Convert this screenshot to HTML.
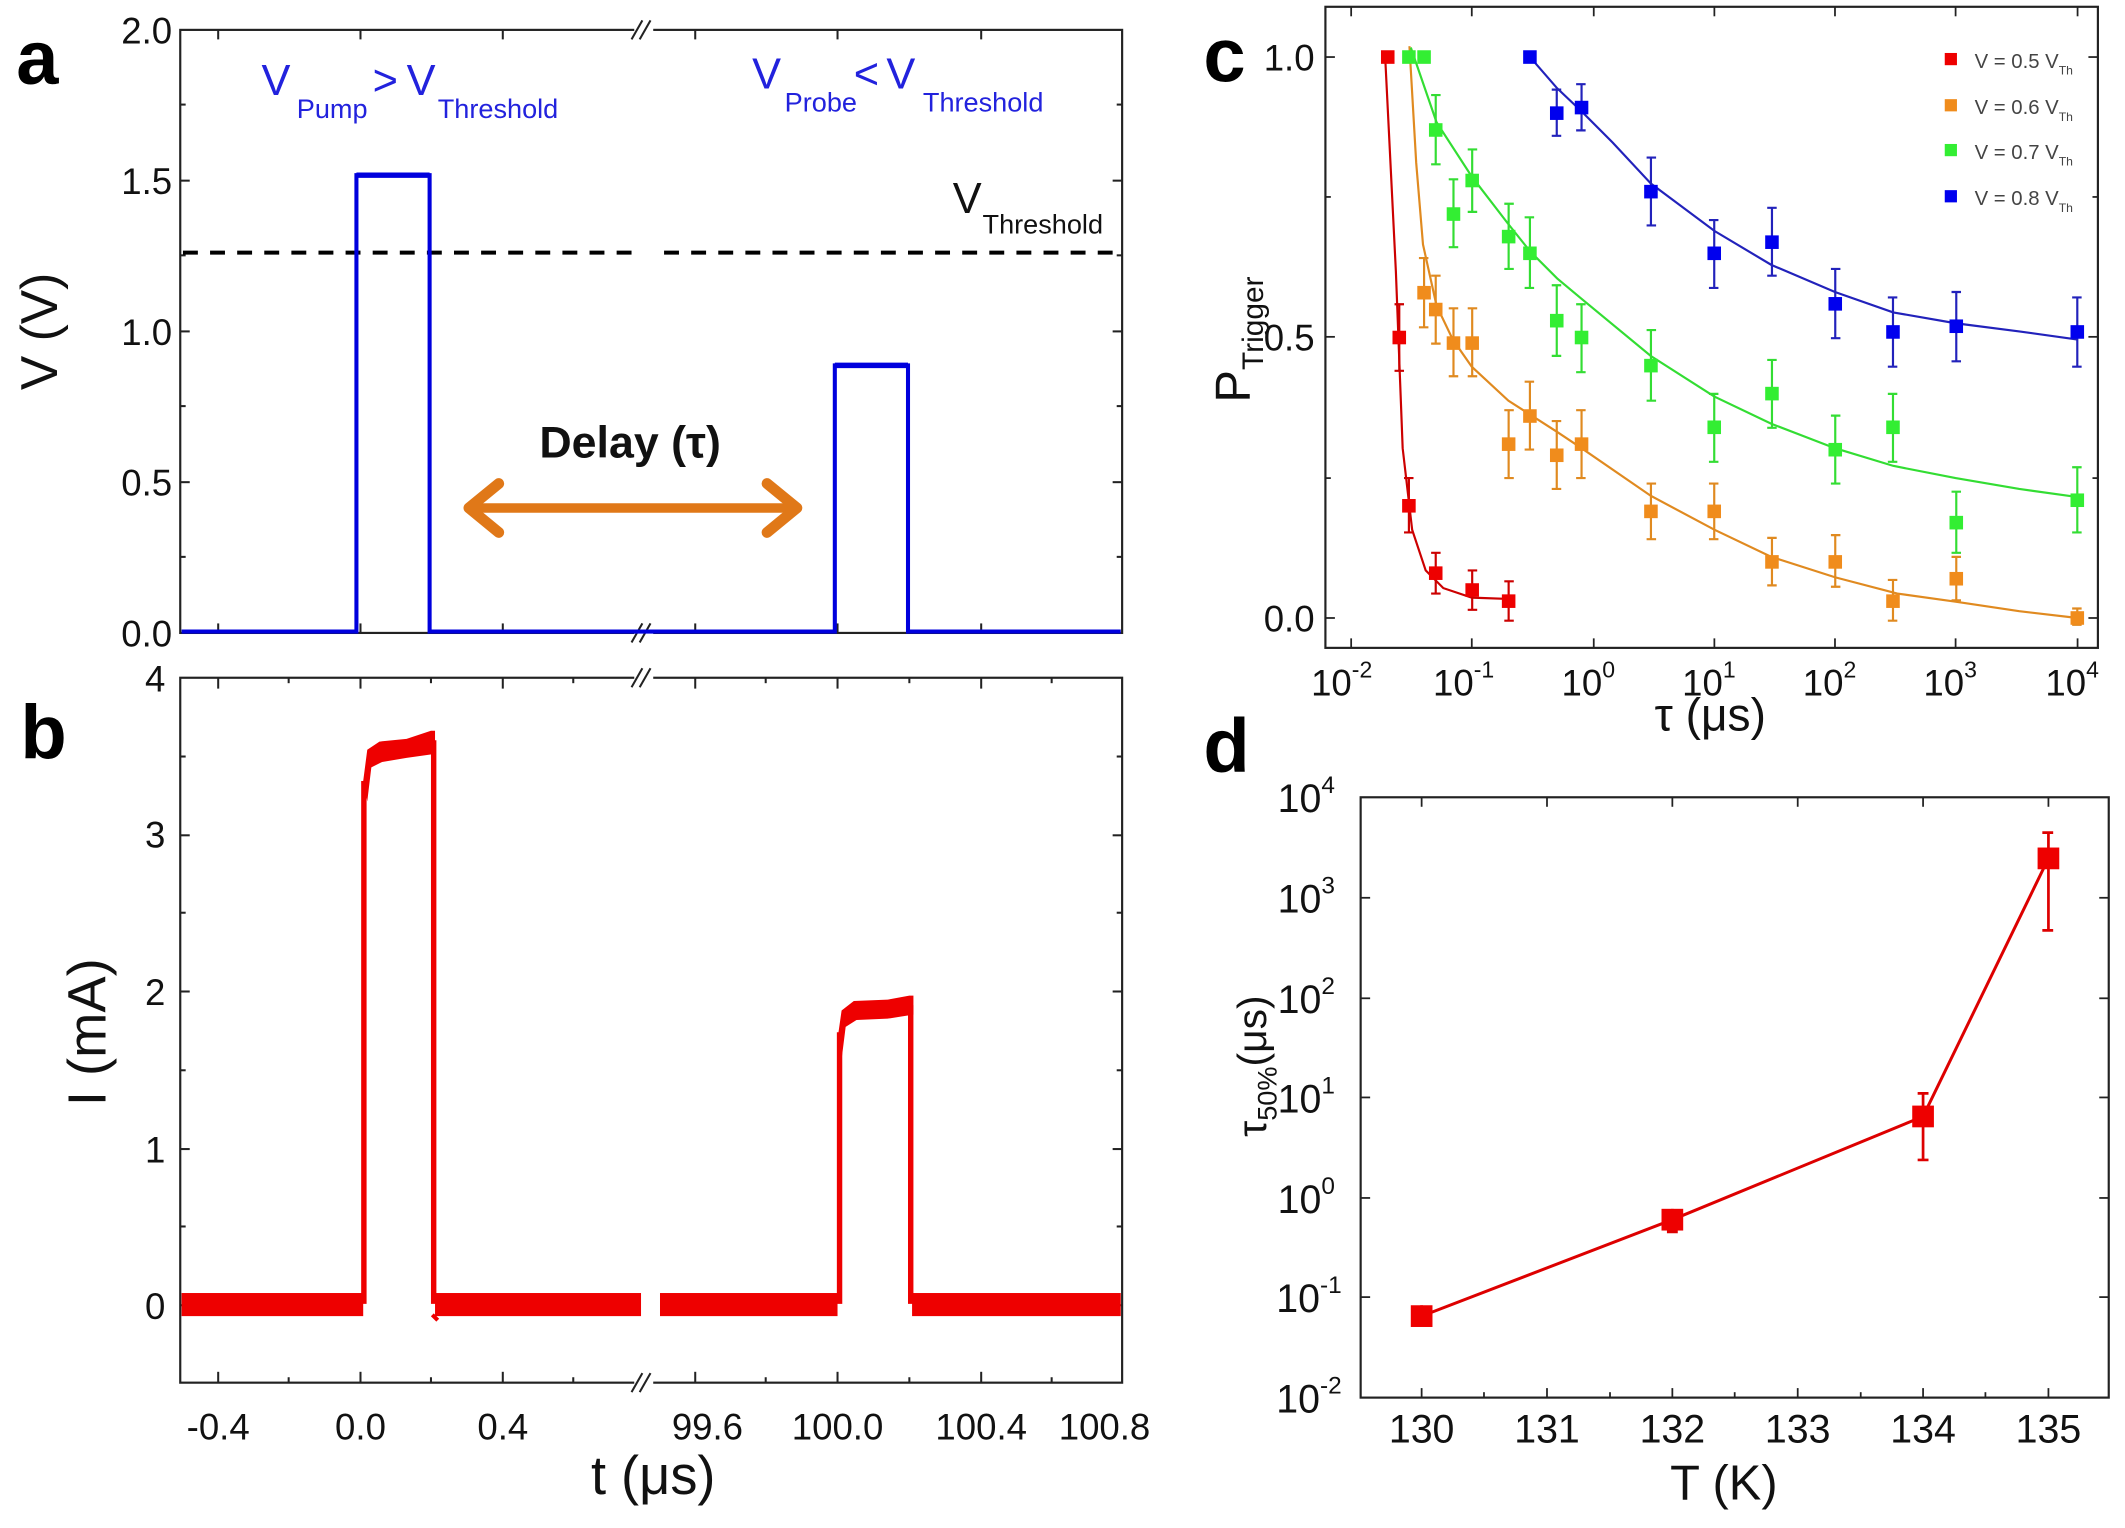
<!DOCTYPE html>
<html><head><meta charset="utf-8"><style>
html,body{margin:0;padding:0;background:#fff;}
svg{display:block;}
text{font-family:"Liberation Sans",Arial,sans-serif;}
</style></head><body>
<svg width="2125" height="1528" viewBox="0 0 1568 1125" preserveAspectRatio="none" xmlns="http://www.w3.org/2000/svg">
<rect width="1568" height="1125" fill="#fff"/>

<!-- ================= Panel a ================= -->
<text x="12" y="62" font-size="56" font-weight="bold">a</text>
<rect x="133" y="22" width="695" height="444" fill="none" stroke="#222" stroke-width="1.6"/>
<g stroke="#222" stroke-width="1.5">
<line x1="133" y1="133" x2="140" y2="133"/><line x1="133" y1="244" x2="140" y2="244"/><line x1="133" y1="355" x2="140" y2="355"/>
<line x1="133" y1="77" x2="137" y2="77"/><line x1="133" y1="188" x2="137" y2="188"/><line x1="133" y1="299" x2="137" y2="299"/><line x1="133" y1="410" x2="137" y2="410"/>
<line x1="828" y1="133" x2="821" y2="133"/><line x1="828" y1="244" x2="821" y2="244"/><line x1="828" y1="355" x2="821" y2="355"/>
<line x1="828" y1="77" x2="824" y2="77"/><line x1="828" y1="188" x2="824" y2="188"/><line x1="828" y1="299" x2="824" y2="299"/><line x1="828" y1="410" x2="824" y2="410"/>
<line x1="161" y1="22" x2="161" y2="29"/><line x1="266" y1="22" x2="266" y2="29"/><line x1="371" y1="22" x2="371" y2="29"/>
<line x1="513" y1="22" x2="513" y2="29"/><line x1="618" y1="22" x2="618" y2="29"/><line x1="724" y1="22" x2="724" y2="29"/>
<line x1="161" y1="466" x2="161" y2="459"/><line x1="266" y1="466" x2="266" y2="459"/><line x1="371" y1="466" x2="371" y2="459"/>
<line x1="513" y1="466" x2="513" y2="459"/><line x1="618" y1="466" x2="618" y2="459"/><line x1="724" y1="466" x2="724" y2="459"/>
</g>
<g font-size="27" text-anchor="end" fill="#111">
<text x="127" y="32">2.0</text><text x="127" y="143">1.5</text><text x="127" y="254">1.0</text><text x="127" y="365">0.5</text><text x="127" y="476">0.0</text>
</g>
<text transform="translate(42,244) rotate(-90)" font-size="38" text-anchor="middle" fill="#111">V (V)</text>
<rect x="468" y="14" width="14" height="16" fill="#fff"/>
<rect x="468" y="458" width="14" height="16" fill="#fff"/>
<g stroke="#222" stroke-width="1.5">
<line x1="466" y1="29" x2="474" y2="15"/><line x1="472" y1="29" x2="480" y2="15"/>
<line x1="466" y1="473" x2="474" y2="459"/><line x1="472" y1="473" x2="480" y2="459"/>
</g>
<line x1="135" y1="186" x2="470" y2="186" stroke="#000" stroke-width="3" stroke-dasharray="11,9"/>
<line x1="490" y1="186" x2="826" y2="186" stroke="#000" stroke-width="3" stroke-dasharray="11,9"/>
<polyline points="134,465 263,465 263,129 317,129 317,465 616,465 616,269 670,269 670,465 827,465" fill="none" stroke="#0000dd" stroke-width="3"/>
<line x1="263" y1="129" x2="317" y2="129" stroke="#0000dd" stroke-width="4"/>
<line x1="616" y1="269" x2="670" y2="269" stroke="#0000dd" stroke-width="4"/>
<g fill="#2222dd">
<text x="193" y="70" font-size="32">V</text><text x="219" y="87" font-size="20">Pump</text><text x="275" y="70" font-size="32">&gt;</text><text x="300" y="70" font-size="32">V</text><text x="323" y="87" font-size="20">Threshold</text>
<text x="555" y="65" font-size="32">V</text><text x="579" y="82" font-size="20">Probe</text><text x="630" y="65" font-size="32">&lt;</text><text x="654" y="65" font-size="32">V</text><text x="681" y="82" font-size="20">Threshold</text>
</g>
<text x="703" y="157" font-size="32" fill="#111">V</text><text x="725" y="172" font-size="20" fill="#111">Threshold</text>
<text x="398" y="337" font-size="33" font-weight="bold" fill="#111">Delay (τ)</text>
<line x1="352" y1="374" x2="582" y2="374" stroke="#e07818" stroke-width="7"/>
<polyline points="368,356 346,374 368,392" fill="none" stroke="#e07818" stroke-width="8" stroke-linecap="round" stroke-linejoin="round"/>
<polyline points="566,356 588,374 566,392" fill="none" stroke="#e07818" stroke-width="8" stroke-linecap="round" stroke-linejoin="round"/>

<!-- ================= Panel b ================= -->
<text x="15" y="558" font-size="56" font-weight="bold">b</text>
<rect x="133" y="499" width="695" height="519" fill="none" stroke="#222" stroke-width="1.6"/>
<g stroke="#222" stroke-width="1.5">
<line x1="133" y1="615" x2="140" y2="615"/><line x1="133" y1="730" x2="140" y2="730"/><line x1="133" y1="846" x2="140" y2="846"/><line x1="133" y1="961" x2="140" y2="961"/>
<line x1="133" y1="557" x2="137" y2="557"/><line x1="133" y1="672" x2="137" y2="672"/><line x1="133" y1="788" x2="137" y2="788"/><line x1="133" y1="903" x2="137" y2="903"/>
<line x1="828" y1="615" x2="821" y2="615"/><line x1="828" y1="730" x2="821" y2="730"/><line x1="828" y1="846" x2="821" y2="846"/><line x1="828" y1="961" x2="821" y2="961"/>
<line x1="828" y1="557" x2="824" y2="557"/><line x1="828" y1="672" x2="824" y2="672"/><line x1="828" y1="788" x2="824" y2="788"/><line x1="828" y1="903" x2="824" y2="903"/>
<line x1="161" y1="499" x2="161" y2="507"/><line x1="266" y1="499" x2="266" y2="507"/><line x1="371" y1="499" x2="371" y2="507"/>
<line x1="513" y1="499" x2="513" y2="507"/><line x1="618" y1="499" x2="618" y2="507"/><line x1="724" y1="499" x2="724" y2="507"/>
<line x1="161" y1="1018" x2="161" y2="1010"/><line x1="266" y1="1018" x2="266" y2="1010"/><line x1="371" y1="1018" x2="371" y2="1010"/>
<line x1="513" y1="1018" x2="513" y2="1010"/><line x1="618" y1="1018" x2="618" y2="1010"/><line x1="724" y1="1018" x2="724" y2="1010"/>
<line x1="213" y1="499" x2="213" y2="503"/><line x1="318" y1="499" x2="318" y2="503"/><line x1="423" y1="499" x2="423" y2="503"/><line x1="565" y1="499" x2="565" y2="503"/><line x1="671" y1="499" x2="671" y2="503"/><line x1="776" y1="499" x2="776" y2="503"/>
<line x1="213" y1="1018" x2="213" y2="1014"/><line x1="318" y1="1018" x2="318" y2="1014"/><line x1="423" y1="1018" x2="423" y2="1014"/><line x1="565" y1="1018" x2="565" y2="1014"/><line x1="671" y1="1018" x2="671" y2="1014"/><line x1="776" y1="1018" x2="776" y2="1014"/>
</g>
<g font-size="27" text-anchor="end" fill="#111">
<text x="122" y="509">4</text><text x="122" y="624">3</text><text x="122" y="740">2</text><text x="122" y="856">1</text><text x="122" y="971">0</text>
</g>
<g font-size="27" text-anchor="middle" fill="#111">
<text x="161" y="1060">-0.4</text><text x="266" y="1060">0.0</text><text x="371" y="1060">0.4</text>
<text x="522" y="1060">99.6</text><text x="618" y="1060">100.0</text><text x="724" y="1060">100.4</text><text x="815" y="1060">100.8</text>
</g>
<text transform="translate(78,760) rotate(-90)" font-size="40" text-anchor="middle" fill="#111">I (mA)</text>
<text x="482" y="1100" font-size="40" text-anchor="middle" fill="#111">t (μs)</text>
<rect x="468" y="491" width="14" height="16" fill="#fff"/>
<rect x="468" y="1010" width="14" height="16" fill="#fff"/>
<g stroke="#222" stroke-width="1.5">
<line x1="466" y1="506" x2="474" y2="492"/><line x1="472" y1="506" x2="480" y2="492"/>
<line x1="466" y1="1025" x2="474" y2="1011"/><line x1="472" y1="1025" x2="480" y2="1011"/>
</g>
<g fill="#ee0000">
<rect x="134" y="952" width="134" height="17"/>
<rect x="321" y="952" width="152" height="17"/>
<rect x="487" y="952" width="131" height="17"/>
<rect x="673" y="952" width="154" height="17"/>
<polygon points="268,575 271,552 280,546 300,544 318,538 321,538 321,555 300,558 282,561 274,565 271,590"/>
<polygon points="618,765 621,744 630,737 655,736 671,733 674,733 674,747 655,750 632,751 624,756 621,780"/>
</g>
<g stroke="#ee0000" fill="none" stroke-width="4">
<line x1="268.5" y1="960" x2="268.5" y2="575"/>
<line x1="320" y1="960" x2="320" y2="545"/>
<line x1="319" y1="968" x2="323" y2="972" stroke-width="3"/>
<line x1="619.5" y1="960" x2="619.5" y2="760"/>
<line x1="672" y1="960" x2="672" y2="740"/>
</g>

<!-- ================= Panel c ================= -->
<text x="888" y="60" font-size="56" font-weight="bold">c</text>
<rect x="978" y="5" width="570" height="472" fill="none" stroke="#222" stroke-width="1.6"/>
<g stroke="#222" stroke-width="1.3">
<line x1="978" y1="42" x2="985" y2="42"/><line x1="978" y1="248" x2="985" y2="248"/><line x1="978" y1="455" x2="985" y2="455"/>
<line x1="978" y1="145" x2="982" y2="145"/><line x1="978" y1="352" x2="982" y2="352"/>
<line x1="1548" y1="42" x2="1541" y2="42"/><line x1="1548" y1="248" x2="1541" y2="248"/><line x1="1548" y1="455" x2="1541" y2="455"/>
<line x1="1548" y1="145" x2="1544" y2="145"/><line x1="1548" y1="352" x2="1544" y2="352"/>
<line x1="997" y1="477" x2="997" y2="470"/><line x1="1086" y1="477" x2="1086" y2="470"/><line x1="1176" y1="477" x2="1176" y2="470"/><line x1="1265" y1="477" x2="1265" y2="470"/><line x1="1354" y1="477" x2="1354" y2="470"/><line x1="1443" y1="477" x2="1443" y2="470"/><line x1="1533" y1="477" x2="1533" y2="470"/>
<line x1="997" y1="5" x2="997" y2="12"/><line x1="1086" y1="5" x2="1086" y2="12"/><line x1="1176" y1="5" x2="1176" y2="12"/><line x1="1265" y1="5" x2="1265" y2="12"/><line x1="1354" y1="5" x2="1354" y2="12"/><line x1="1443" y1="5" x2="1443" y2="12"/><line x1="1533" y1="5" x2="1533" y2="12"/>
</g>
<g font-size="27" text-anchor="end" fill="#111">
<text x="970" y="52">1.0</text><text x="970" y="258">0.5</text><text x="970" y="465">0.0</text>
</g>
<g font-size="27" fill="#111" text-anchor="middle">
<text x="990" y="512">10<tspan font-size="17" dy="-13">-2</tspan></text>
<text x="1080" y="512">10<tspan font-size="17" dy="-13">-1</tspan></text>
<text x="1172" y="512">10<tspan font-size="17" dy="-13">0</tspan></text>
<text x="1261" y="512">10<tspan font-size="17" dy="-13">1</tspan></text>
<text x="1350" y="512">10<tspan font-size="17" dy="-13">2</tspan></text>
<text x="1439" y="512">10<tspan font-size="17" dy="-13">3</tspan></text>
<text x="1529" y="512">10<tspan font-size="17" dy="-13">4</tspan></text>
</g>
<text x="1262" y="538" font-size="34" text-anchor="middle" fill="#111">τ (μs)</text>
<text transform="translate(922,250) rotate(-90)" font-size="36" text-anchor="middle" fill="#111">P<tspan font-size="22" dy="10">Trigger</tspan></text>
<g fill="none" stroke-width="1.6">
<polyline stroke="#cc0000" points="1022,40 1030,200 1035,330 1042,390 1052,420 1065,433 1086,440 1113,441"/>
<polyline stroke="#e08a20" points="1040,34 1045,120 1050,180 1060,225 1072,250 1086,270 1113,295 1149,318 1167,330 1218,365 1265,390 1307,410 1354,425 1400,437 1443,443 1490,450 1533,455"/>
<polyline stroke="#33dd33" points="1041,35 1060,90 1086,130 1113,165 1129,185 1149,205 1167,220 1218,262 1265,292 1307,312 1354,330 1397,343 1443,352 1490,360 1533,366"/>
<polyline stroke="#2222bb" points="1129,42 1149,65 1167,82 1190,105 1218,135 1265,170 1307,195 1354,215 1397,230 1443,238 1490,244 1533,250"/>
</g>
<g stroke-width="1.6" fill="none">
<path stroke="#cc0000" d="M1032.5,224v49M1029,224h7M1029,273h7 M1039.6,352v40M1036,352h7M1036,392h7 M1059.4,407v30M1056,407h7M1056,437h7 M1086.3,420v29M1083,420h7M1083,449h7 M1113.2,428v29M1110,428h7M1110,457h7"/>
<path stroke="#e08a20" d="M1050.8,190v51M1047,190h7M1047,241h7 M1059.4,203v50M1056,203h7M1056,253h7 M1072.5,227v50M1069,227h7M1069,277h7 M1086.3,227v50M1083,227h7M1083,277h7 M1113.2,302v50M1110,302h7M1110,352h7 M1128.9,281v50M1125,281h7M1125,331h7 M1148.7,310v50M1145,310h7M1145,360h7 M1167,302v50M1163,302h7M1163,352h7 M1218.2,356v41M1215,356h7M1215,397h7 M1264.9,356v41M1261,356h7M1261,397h7 M1307.5,396v35M1304,396h7M1304,431h7 M1354.2,394v38M1351,394h7M1351,432h7 M1396.8,427v30M1393,427h7M1393,457h7 M1443.5,410v32M1440,410h7M1440,442h7 M1532.8,448v12M1529,448h7M1529,460h7"/>
<path stroke="#33dd33" d="M1059.4,70v51M1056,70h7M1056,121h7 M1072.5,132v50M1069,132h7M1069,182h7 M1086.3,110v46M1083,110h7M1083,156h7 M1113.2,150v48M1110,150h7M1110,198h7 M1128.9,160v52M1125,160h7M1125,212h7 M1148.7,210v52M1145,210h7M1145,262h7 M1167,224v50M1163,224h7M1163,274h7 M1218.2,243v52M1215,243h7M1215,295h7 M1264.9,290v50M1261,290h7M1261,340h7 M1307.5,265v50M1304,265h7M1304,315h7 M1354.2,306v50M1351,306h7M1351,356h7 M1396.8,290v50M1393,290h7M1393,340h7 M1443.5,362v45M1440,362h7M1440,407h7 M1532.8,344v48M1529,344h7M1529,392h7"/>
<path stroke="#2222bb" d="M1148.7,66v34M1145,66h7M1145,100h7 M1167,62v34M1163,62h7M1163,96h7 M1218.2,116v50M1215,116h7M1215,166h7 M1264.9,162v50M1261,162h7M1261,212h7 M1307.5,153v50M1304,153h7M1304,203h7 M1354.2,198v51M1351,198h7M1351,249h7 M1396.8,219v51M1393,219h7M1393,270h7 M1443.5,215v51M1440,215h7M1440,266h7 M1532.8,219v51M1529,219h7M1529,270h7"/>
</g>
<g fill="#ee0000">
<rect x="1019" y="37" width="10" height="10"/><rect x="1027.5" y="243.5" width="10" height="10"/><rect x="1034.6" y="367.4" width="10" height="10"/><rect x="1054.4" y="417" width="10" height="10"/><rect x="1081.3" y="429.4" width="10" height="10"/><rect x="1108.2" y="437.6" width="10" height="10"/>
</g>
<g fill="#f08c1c">
<rect x="1045.8" y="210.5" width="10" height="10"/><rect x="1054.4" y="222.9" width="10" height="10"/><rect x="1067.5" y="247.6" width="10" height="10"/><rect x="1081.3" y="247.6" width="10" height="10"/><rect x="1108.2" y="322" width="10" height="10"/><rect x="1123.9" y="301.3" width="10" height="10"/><rect x="1143.7" y="330.2" width="10" height="10"/><rect x="1162" y="322" width="10" height="10"/><rect x="1213.2" y="371.5" width="10" height="10"/><rect x="1259.9" y="371.5" width="10" height="10"/><rect x="1302.5" y="408.7" width="10" height="10"/><rect x="1349.2" y="408.7" width="10" height="10"/><rect x="1391.8" y="437.6" width="10" height="10"/><rect x="1438.5" y="421.1" width="10" height="10"/><rect x="1527.8" y="450" width="10" height="10"/>
</g>
<g fill="#33ee33">
<rect x="1034.6" y="37" width="10" height="10"/><rect x="1045.8" y="37" width="10" height="10"/><rect x="1054.4" y="90.7" width="10" height="10"/><rect x="1067.5" y="152.6" width="10" height="10"/><rect x="1081.3" y="127.9" width="10" height="10"/><rect x="1108.2" y="169.2" width="10" height="10"/><rect x="1123.9" y="181.5" width="10" height="10"/><rect x="1143.7" y="231.1" width="10" height="10"/><rect x="1162" y="243.5" width="10" height="10"/><rect x="1213.2" y="264.2" width="10" height="10"/><rect x="1259.9" y="309.6" width="10" height="10"/><rect x="1302.5" y="284.8" width="10" height="10"/><rect x="1349.2" y="326.1" width="10" height="10"/><rect x="1391.8" y="309.6" width="10" height="10"/><rect x="1438.5" y="379.8" width="10" height="10"/><rect x="1527.8" y="363.3" width="10" height="10"/>
</g>
<g fill="#0000ee">
<rect x="1123.9" y="37" width="10" height="10"/><rect x="1143.7" y="78.3" width="10" height="10"/><rect x="1162" y="74.2" width="10" height="10"/><rect x="1213.2" y="136.1" width="10" height="10"/><rect x="1259.9" y="181.5" width="10" height="10"/><rect x="1302.5" y="173.3" width="10" height="10"/><rect x="1349.2" y="218.7" width="10" height="10"/><rect x="1391.8" y="239.4" width="10" height="10"/><rect x="1438.5" y="235.2" width="10" height="10"/><rect x="1527.8" y="239.4" width="10" height="10"/>
</g>
<rect x="1435" y="39" width="9" height="9" fill="#ee0000"/>
<rect x="1435" y="73" width="9" height="9" fill="#f08c1c"/>
<rect x="1435" y="106" width="9" height="9" fill="#33ee33"/>
<rect x="1435" y="140" width="9" height="9" fill="#0000ee"/>
<g font-size="15" fill="#444">
<text x="1457" y="50">V = 0.5 V<tspan font-size="9" dy="5">Th</tspan></text>
<text x="1457" y="84">V = 0.6 V<tspan font-size="9" dy="5">Th</tspan></text>
<text x="1457" y="117">V = 0.7 V<tspan font-size="9" dy="5">Th</tspan></text>
<text x="1457" y="151">V = 0.8 V<tspan font-size="9" dy="5">Th</tspan></text>
</g>

<!-- ================= Panel d ================= -->
<text x="888" y="568" font-size="56" font-weight="bold">d</text>
<rect x="1004" y="587" width="552" height="442" fill="none" stroke="#222" stroke-width="1.6"/>
<g stroke="#222" stroke-width="1.3">
<line x1="1004" y1="661" x2="1011" y2="661"/><line x1="1004" y1="735" x2="1011" y2="735"/><line x1="1004" y1="808" x2="1011" y2="808"/><line x1="1004" y1="882" x2="1011" y2="882"/><line x1="1004" y1="955" x2="1011" y2="955"/>
<line x1="1556" y1="661" x2="1549" y2="661"/><line x1="1556" y1="735" x2="1549" y2="735"/><line x1="1556" y1="808" x2="1549" y2="808"/><line x1="1556" y1="882" x2="1549" y2="882"/><line x1="1556" y1="955" x2="1549" y2="955"/>
<line x1="1049" y1="1029" x2="1049" y2="1022"/><line x1="1141.5" y1="1029" x2="1141.5" y2="1022"/><line x1="1234" y1="1029" x2="1234" y2="1022"/><line x1="1326.5" y1="1029" x2="1326.5" y2="1022"/><line x1="1419" y1="1029" x2="1419" y2="1022"/><line x1="1511.5" y1="1029" x2="1511.5" y2="1022"/>
<line x1="1095" y1="1029" x2="1095" y2="1025"/><line x1="1188" y1="1029" x2="1188" y2="1025"/><line x1="1280" y1="1029" x2="1280" y2="1025"/><line x1="1373" y1="1029" x2="1373" y2="1025"/><line x1="1465" y1="1029" x2="1465" y2="1025"/>
<line x1="1049" y1="587" x2="1049" y2="594"/><line x1="1141.5" y1="587" x2="1141.5" y2="594"/><line x1="1234" y1="587" x2="1234" y2="594"/><line x1="1326.5" y1="587" x2="1326.5" y2="594"/><line x1="1419" y1="587" x2="1419" y2="594"/><line x1="1511.5" y1="587" x2="1511.5" y2="594"/>
</g>
<g font-size="29" fill="#111" text-anchor="end">
<text x="985" y="598">10<tspan font-size="18" dy="-14">4</tspan></text>
<text x="985" y="672">10<tspan font-size="18" dy="-14">3</tspan></text>
<text x="985" y="746">10<tspan font-size="18" dy="-14">2</tspan></text>
<text x="985" y="819">10<tspan font-size="18" dy="-14">1</tspan></text>
<text x="985" y="893">10<tspan font-size="18" dy="-14">0</tspan></text>
<text x="990" y="966">10<tspan font-size="18" dy="-14">-1</tspan></text>
<text x="990" y="1040">10<tspan font-size="18" dy="-14">-2</tspan></text>
</g>
<g font-size="29" fill="#111" text-anchor="middle">
<text x="1049" y="1062">130</text><text x="1141.5" y="1062">131</text><text x="1234" y="1062">132</text><text x="1326.5" y="1062">133</text><text x="1419" y="1062">134</text><text x="1511.5" y="1062">135</text>
</g>
<text x="1272" y="1104" font-size="36" text-anchor="middle" fill="#111">T (K)</text>
<text transform="translate(934,785) rotate(-90)" font-size="30" text-anchor="middle" fill="#111">τ<tspan font-size="20" dy="8">50%</tspan><tspan dy="-8">(μs)</tspan></text>
<polyline points="1049,969 1234,898 1419,822 1511.5,632" fill="none" stroke="#dd0000" stroke-width="2.2"/>
<g stroke="#dd0000" stroke-width="2" fill="none">
<path d="M1419,805v49M1415,805h8M1415,854h8 M1511.5,613v72M1507,613h8M1507,685h8 M1234,890v17M1230,907h8 M1049,961v14"/>
</g>
<g fill="#ee0000">
<rect x="1041" y="961" width="16" height="16"/><rect x="1226" y="890" width="16" height="16"/><rect x="1411" y="814" width="16" height="16"/><rect x="1503.5" y="624" width="16" height="16"/>
</g>
</svg>
</body></html>
